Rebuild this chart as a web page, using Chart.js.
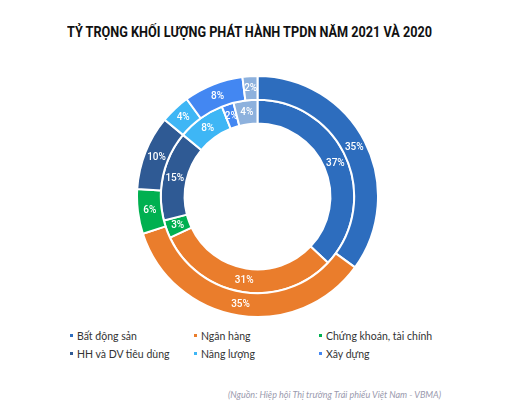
<!DOCTYPE html>
<html>
<head>
<meta charset="utf-8">
<script src="https://cdn.jsdelivr.net/npm/chart.js@4"></script>
<style>
  html, body { margin: 0; padding: 0; background: #fff; }
  body { width: 506px; height: 413px; position: relative; overflow: hidden; }
  #title {
    position: absolute; left: 67px; top: 23px; white-space: nowrap;
    font-family: Roboto, sans-serif; transform-origin: 0 0;
    font-weight: bold; font-size: 15px; color: #111;
  }
  #chart-box { position: absolute; left: 136px; top: 75px; width: 243px; height: 243px; }
  .legend-item {
    position: absolute; font-family: Lato, sans-serif; font-size: 10.5px; color: #333;
    white-space: nowrap; line-height: 12px;
  }
  .legend-item i {
    display: inline-block; width: 3px; height: 3px; margin-right: 4px; vertical-align: 3px;
  }
  #source {
    position: absolute; left: 228px; top: 389px;
    font-family: Lato, sans-serif; font-style: italic; font-size: 9px; color: #9a9aae;
  }
</style>
</head>
<body>
<div id="title">TỶ TRỌNG KHỐI LƯỢNG PHÁT HÀNH TPDN NĂM 2021 VÀ 2020</div>
<div id="chart-box"><canvas id="ring-chart"></canvas></div>
<div id="legend"></div>
<div id="source">(Nguồn: Hiệp hội Thị trường Trái phiếu Việt Nam - VBMA)</div>

<script>
// Sectors (last one is unnamed in the original legend)
const sectors = ['Bất động sản', 'Ngân hàng', 'Chứng khoán, tài chính', 'HH và DV tiêu dùng', 'Năng lượng', 'Xây dựng', 'Khác'];
const colors = ['#2d6dbe', '#ea7d2c', '#00b050', '#2f5a94', '#3eb6f5', '#4387f2', '#8db1dd'];

// Share of issuance volume (%)
const share2021 = [35, 35, 6, 10, 4, 8, 2];
const share2020 = [37, 31, 3, 15, 8, 2, 4];

// number of legend entries shown (the "Khác" slice has none)
const legendCount = 6;

// Draws the percentage in the middle of every slice
const sliceLabelsPlugin = {
  id: 'sliceLabels',
  afterDatasetsDraw: (chart) => {
    const ctx = chart.ctx;
    ctx.save();
    ctx.font = '500 10px Roboto';
    ctx.fillStyle = '#ffffff';
    ctx.textAlign = 'center';
    ctx.textBaseline = 'middle';
    chart.data.datasets.forEach((ds, i) => {
      chart.getDatasetMeta(i).data.forEach((arc, j) => {
        const p = arc.tooltipPosition();
        ctx.fillText(ds.data[j] + '%', p.x, p.y + 0.5);
      });
    });
    ctx.restore();
  }
};

new Chart(document.getElementById('ring-chart').getContext('2d'), {
  type: 'doughnut',
  data: {
    labels: sectors,
    datasets: [
      { label: '2021', data: share2021, backgroundColor: colors, borderColor: '#ffffff', borderWidth: 2 },
      { label: '2020', data: share2020, backgroundColor: colors, borderColor: '#ffffff', borderWidth: 2 }
    ]
  },
  options: {
    responsive: true,
    maintainAspectRatio: false,
    animation: false,
    cutout: '60.5%',
    layout: { padding: 0 },
    plugins: {
      legend: { display: false },
      tooltip: { enabled: false }
    }
  },
  plugins: [sliceLabelsPlugin]
});

// squeeze the title into the width of the original condensed heading
const titleEl = document.getElementById('title');
titleEl.style.transform = 'scaleX(' + (365 / titleEl.offsetWidth) + ')';

// HTML legend in a 3-column grid
const legendCols = [70, 194, 319];
const legendRows = [330, 348];
const legendEl = document.getElementById('legend');
for (let k = 0; k < legendCount; k++) {
  const item = document.createElement('div');
  item.className = 'legend-item';
  item.style.left = legendCols[k % 3] + 'px';
  item.style.top = legendRows[Math.floor(k / 3)] + 'px';
  item.innerHTML = '<i style="background:' + colors[k] + '"></i>' + sectors[k];
  legendEl.appendChild(item);
}
</script>
</body>
</html>
